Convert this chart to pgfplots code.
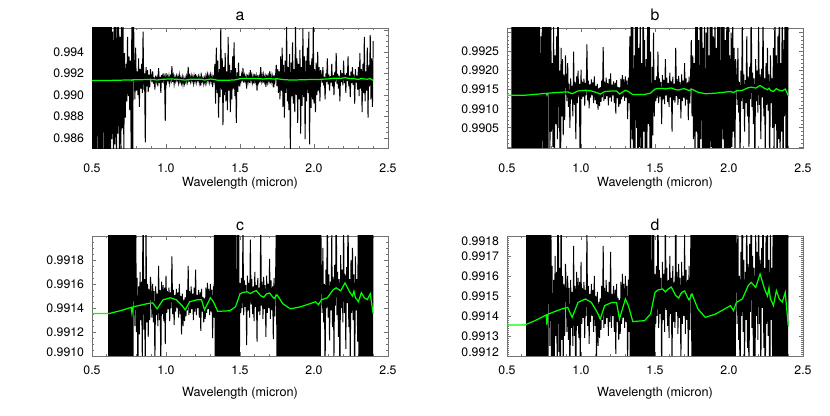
\documentclass[border=0pt]{standalone}
\usepackage{fontspec}
\setmainfont{TeX Gyre Heros}
\usepackage{pgfplots}
\usepackage{pgfplotstable}
\pgfplotsset{compat=1.18}

% spectrum at the noise level of panels a and b
\pgfplotstableread[row sep=\\]{
x y\\
0.500 0.99990\\ 0.505 0.98190\\ 0.510 1.00240\\ 0.515 0.98340\\ 0.520 0.99840\\ 0.525 0.98040\\
0.530 1.00090\\ 0.535 0.98390\\ 0.540 1.00340\\ 0.545 0.98240\\ 0.550 0.99940\\ 0.555 0.98140\\
0.560 0.99890\\ 0.565 0.97940\\ 0.570 1.00140\\ 0.575 0.98290\\ 0.580 1.00040\\ 0.585 0.98440\\
0.590 1.00190\\ 0.595 0.98190\\ 0.600 0.99990\\ 0.605 0.98040\\ 0.610 0.99940\\ 0.615 0.98240\\
0.620 0.99740\\ 0.625 0.98390\\ 0.630 1.00040\\ 0.635 0.98590\\ 0.640 0.99590\\ 0.645 0.98290\\
0.650 0.99840\\ 0.655 0.98540\\ 0.660 0.99690\\ 0.665 0.98240\\ 0.670 0.99940\\ 0.675 0.98640\\
0.680 0.99790\\ 0.685 0.98440\\ 0.690 0.99540\\ 0.695 0.98340\\ 0.700 0.99890\\ 0.705 0.98690\\
0.710 0.99690\\ 0.715 0.98490\\
0.720 0.99390\\ 0.725 0.98790\\ 0.730 0.99290\\ 0.735 0.98940\\ 0.740 0.99540\\ 0.745 0.98990\\
0.750 0.99360\\ 0.755 0.98860\\ 0.760 0.99320\\
0.765 0.98340\\ 0.770 1.00040\\ 0.775 0.98290\\ 0.780 0.99840\\
0.785 0.99260\\ 0.790 0.98960\\ 0.795 0.99440\\ 0.800 0.99040\\ 0.805 0.99220\\ 0.810 0.99000\\
0.815 0.99340\\ 0.820 0.98890\\ 0.825 0.99240\\ 0.830 0.99060\\ 0.835 0.99290\\ 0.840 0.99020\\
0.845 0.99590\\
0.850 0.99050\\ 0.855 0.99200\\ 0.860 0.98560\\ 0.865 0.99260\\ 0.870 0.99080\\ 0.875 0.99230\\
0.880 0.99030\\ 0.885 0.99190\\ 0.890 0.99070\\ 0.895 0.99240\\
0.900 0.99175\\ 0.905 0.99120\\ 0.910 0.99220\\ 0.915 0.99105\\ 0.920 0.99165\\ 0.925 0.99050\\
0.930 0.99180\\ 0.935 0.99125\\ 0.940 0.99160\\ 0.945 0.99080\\ 0.950 0.99250\\ 0.955 0.99110\\
0.960 0.99170\\ 0.965 0.99020\\ 0.970 0.99185\\ 0.975 0.99115\\ 0.980 0.99200\\ 0.985 0.99130\\
0.990 0.99165\\ 0.995 0.98760\\
1.000 0.99203\\ 1.005 0.99126\\ 1.010 0.99171\\ 1.015 0.99132\\ 1.020 0.99179\\ 1.025 0.99108\\
1.030 0.99168\\ 1.035 0.99136\\ 1.040 0.99269\\ 1.045 0.99122\\ 1.050 0.99174\\ 1.055 0.99101\\
1.060 0.99164\\ 1.065 0.99129\\ 1.070 0.99177\\ 1.075 0.99135\\ 1.080 0.99169\\ 1.085 0.99115\\
1.090 0.99185\\ 1.095 0.99123\\ 1.100 0.99160\\ 1.105 0.99112\\ 1.110 0.99165\\ 1.115 0.99098\\
1.120 0.99154\\ 1.125 0.99107\\ 1.130 0.99157\\ 1.135 0.99118\\ 1.140 0.99174\\ 1.145 0.99130\\
1.150 0.99262\\ 1.155 0.99121\\ 1.160 0.99171\\ 1.165 0.99126\\ 1.170 0.99182\\ 1.175 0.99133\\
1.180 0.99167\\ 1.185 0.99109\\ 1.190 0.99178\\ 1.195 0.99129\\ 1.200 0.99193\\ 1.205 0.99119\\
1.210 0.99163\\ 1.215 0.99135\\ 1.220 0.99172\\ 1.225 0.99115\\ 1.230 0.99168\\ 1.235 0.99087\\
1.240 0.99175\\ 1.245 0.99128\\ 1.250 0.99157\\ 1.255 0.99105\\ 1.260 0.99156\\ 1.265 0.99112\\
1.270 0.99179\\ 1.275 0.99125\\ 1.280 0.99188\\ 1.285 0.99132\\ 1.290 0.99177\\ 1.295 0.99121\\
1.300 0.99185\\ 1.305 0.99129\\ 1.310 0.99174\\ 1.315 0.99073\\ 1.320 0.99182\\ 1.325 0.99115\\
1.330 0.99290\\ 1.335 0.98920\\ 1.340 0.99440\\ 1.345 0.99020\\ 1.350 0.99320\\ 1.355 0.98790\\
1.360 0.99240\\ 1.365 0.98980\\ 1.370 0.99620\\ 1.375 0.99050\\ 1.380 0.99340\\ 1.385 0.98720\\
1.390 0.99260\\ 1.395 0.99000\\ 1.400 0.99390\\ 1.405 0.98940\\ 1.410 0.99220\\ 1.415 0.98860\\
1.420 0.99540\\ 1.425 0.99040\\ 1.430 0.99280\\ 1.435 0.98840\\ 1.440 0.99230\\ 1.445 0.98960\\
1.450 0.99360\\ 1.455 0.99060\\ 1.460 0.99490\\ 1.465 0.98990\\ 1.470 0.99250\\ 1.475 0.98740\\
1.480 0.99210\\ 1.485 0.99030\\ 1.490 0.99300\\ 1.495 0.99080\\
1.500 0.99175\\ 1.505 0.99120\\ 1.510 0.99185\\ 1.515 0.99128\\ 1.520 0.99250\\ 1.525 0.99115\\
1.530 0.99180\\ 1.535 0.99132\\ 1.540 0.99170\\ 1.545 0.99060\\ 1.550 0.99188\\ 1.555 0.99125\\
1.560 0.99176\\ 1.565 0.99112\\ 1.570 0.99230\\ 1.575 0.99135\\ 1.580 0.99182\\ 1.585 0.99118\\
1.590 0.99168\\ 1.595 0.99105\\ 1.600 0.99195\\ 1.605 0.99130\\ 1.610 0.99172\\ 1.615 0.99040\\
1.620 0.99184\\ 1.625 0.99122\\ 1.630 0.99166\\ 1.635 0.99116\\ 1.640 0.99260\\ 1.645 0.99134\\
1.650 0.99178\\ 1.655 0.99110\\ 1.660 0.99186\\ 1.665 0.99126\\ 1.670 0.99170\\ 1.675 0.99075\\
1.680 0.99190\\ 1.685 0.99120\\ 1.690 0.99174\\ 1.695 0.99129\\ 1.700 0.99220\\ 1.705 0.99108\\
1.710 0.99180\\ 1.715 0.99124\\ 1.720 0.99169\\ 1.725 0.99070\\ 1.730 0.99184\\ 1.735 0.99114\\
1.740 0.99176\\ 1.745 0.99280\\
1.750 0.99080\\ 1.755 0.99240\\ 1.760 0.99020\\ 1.765 0.99220\\ 1.770 0.98960\\ 1.775 0.99360\\
1.780 0.99040\\ 1.785 0.99440\\ 1.790 0.98890\\ 1.795 0.99280\\ 1.800 0.98790\\ 1.805 0.99320\\
1.810 0.99020\\ 1.815 0.99640\\ 1.820 0.98940\\ 1.825 0.99260\\ 1.830 0.98860\\ 1.835 0.99380\\
1.840 0.98490\\ 1.845 0.99300\\ 1.850 0.98990\\ 1.855 0.99490\\ 1.860 0.98920\\ 1.865 0.99240\\
1.870 0.98840\\ 1.875 0.99690\\ 1.880 0.99000\\ 1.885 0.99340\\ 1.890 0.98740\\ 1.895 0.99290\\
1.900 0.98960\\ 1.905 0.99420\\ 1.910 0.98640\\ 1.915 0.99260\\ 1.920 0.98900\\ 1.925 0.99620\\
1.930 0.98980\\ 1.935 0.99360\\ 1.940 0.98590\\ 1.945 0.99320\\ 1.950 0.98940\\ 1.955 0.99440\\
1.960 0.99020\\ 1.965 0.99590\\ 1.970 0.98540\\ 1.975 0.99280\\ 1.980 0.98880\\ 1.985 0.99340\\
1.990 0.98960\\ 1.995 0.99640\\ 2.000 0.98920\\ 2.005 0.99240\\ 2.010 0.98840\\ 2.015 0.99300\\
2.020 0.99000\\ 2.025 0.99400\\ 2.030 0.99040\\ 2.035 0.99260\\ 2.040 0.98940\\ 2.045 0.99230\\
2.050 0.99180\\ 2.055 0.99110\\ 2.060 0.99260\\ 2.065 0.99090\\ 2.070 0.99170\\ 2.075 0.98960\\
2.080 0.99200\\ 2.085 0.99120\\ 2.090 0.99340\\ 2.095 0.99100\\ 2.100 0.99190\\ 2.105 0.99040\\
2.110 0.99175\\ 2.115 0.99115\\ 2.120 0.99290\\ 2.125 0.99080\\ 2.130 0.99185\\ 2.135 0.99000\\
2.140 0.99210\\ 2.145 0.99125\\ 2.150 0.99390\\ 2.155 0.99105\\ 2.160 0.99195\\ 2.165 0.99060\\
2.170 0.99180\\ 2.175 0.98940\\ 2.180 0.99230\\ 2.185 0.99120\\ 2.190 0.99200\\ 2.195 0.99090\\
2.200 0.99320\\ 2.205 0.99110\\ 2.210 0.99190\\ 2.215 0.99020\\ 2.220 0.99205\\ 2.225 0.99130\\
2.230 0.99360\\ 2.235 0.99080\\ 2.240 0.99180\\ 2.245 0.98980\\ 2.250 0.99220\\ 2.255 0.99110\\
2.260 0.99260\\ 2.265 0.99095\\ 2.270 0.99190\\ 2.275 0.98920\\ 2.280 0.99240\\ 2.285 0.99115\\
2.290 0.99180\\ 2.295 0.99050\\
2.300 0.99260\\ 2.305 0.98990\\ 2.310 0.99390\\ 2.315 0.99060\\ 2.320 0.99240\\ 2.325 0.98840\\
2.330 0.99290\\ 2.335 0.99020\\ 2.340 0.99540\\ 2.345 0.98940\\ 2.350 0.99220\\ 2.355 0.99040\\
2.360 0.99440\\ 2.365 0.98790\\ 2.370 0.99280\\ 2.375 0.99080\\ 2.380 0.99560\\ 2.385 0.98960\\
2.390 0.99340\\ 2.395 0.98890\\ 2.400 0.99500\\
}\specA

% spectrum at the noise level of panels c and d
\pgfplotstableread[row sep=\\]{
x y\\
0.610 0.99940\\ 0.615 0.98240\\
0.620 0.99740\\ 0.625 0.98390\\ 0.630 1.00040\\ 0.635 0.98590\\ 0.640 0.99590\\ 0.645 0.98290\\
0.650 0.99840\\ 0.655 0.98540\\ 0.660 0.99690\\ 0.665 0.98240\\ 0.670 0.99940\\ 0.675 0.98640\\
0.680 0.99790\\ 0.685 0.98440\\ 0.690 0.99540\\ 0.695 0.98340\\ 0.700 0.99890\\ 0.705 0.98690\\
0.710 0.99690\\ 0.715 0.98490\\
0.720 0.99390\\ 0.725 0.98790\\ 0.730 0.99290\\ 0.735 0.98940\\ 0.740 0.99540\\ 0.745 0.98990\\
0.750 0.99360\\ 0.755 0.98860\\ 0.760 0.99320\\
0.765 0.98340\\ 0.770 1.00040\\ 0.775 0.98290\\ 0.780 0.99840\\
0.785 0.99160\\ 0.790 0.99125\\ 0.795 0.99230\\ 0.800 0.99120\\ 0.805 0.99165\\ 0.810 0.99080\\
0.815 0.99158\\ 0.820 0.99118\\ 0.825 0.99170\\ 0.830 0.99130\\ 0.835 0.99162\\ 0.840 0.99095\\
0.845 0.99260\\
0.850 0.99122\\ 0.855 0.99164\\ 0.860 0.99080\\ 0.865 0.99210\\ 0.870 0.99128\\ 0.875 0.99160\\
0.880 0.99116\\ 0.885 0.99156\\ 0.890 0.99130\\ 0.895 0.99166\\
0.900 0.99156\\ 0.905 0.99132\\ 0.910 0.99160\\ 0.915 0.99128\\ 0.920 0.99154\\ 0.925 0.99095\\
0.930 0.99158\\ 0.935 0.99134\\ 0.940 0.99152\\ 0.945 0.99125\\ 0.950 0.99175\\ 0.955 0.99130\\
0.960 0.99155\\ 0.965 0.99090\\ 0.970 0.99162\\ 0.975 0.99135\\ 0.980 0.99159\\ 0.985 0.99129\\
0.990 0.99157\\ 0.995 0.99110\\
1.000 0.99167\\ 1.005 0.99136\\ 1.010 0.99154\\ 1.015 0.99139\\ 1.020 0.99157\\ 1.025 0.99129\\
1.030 0.99153\\ 1.035 0.99140\\ 1.040 0.99183\\ 1.045 0.99135\\ 1.050 0.99155\\ 1.055 0.99126\\
1.060 0.99151\\ 1.065 0.99137\\ 1.070 0.99156\\ 1.075 0.99140\\ 1.080 0.99153\\ 1.085 0.99132\\
1.090 0.99160\\ 1.095 0.99135\\ 1.100 0.99150\\ 1.105 0.99118\\ 1.110 0.99152\\ 1.115 0.99125\\
1.120 0.99147\\ 1.125 0.99129\\ 1.130 0.99149\\ 1.135 0.99133\\ 1.140 0.99155\\ 1.145 0.99138\\
1.150 0.99175\\ 1.155 0.99134\\ 1.160 0.99154\\ 1.165 0.99136\\ 1.170 0.99158\\ 1.175 0.99139\\
1.180 0.99152\\ 1.185 0.99130\\ 1.190 0.99157\\ 1.195 0.99137\\ 1.200 0.99172\\ 1.205 0.99134\\
1.210 0.99151\\ 1.215 0.99140\\ 1.220 0.99155\\ 1.225 0.99132\\ 1.230 0.99153\\ 1.235 0.99121\\
1.240 0.99156\\ 1.245 0.99137\\ 1.250 0.99149\\ 1.255 0.99128\\ 1.260 0.99148\\ 1.265 0.99131\\
1.270 0.99157\\ 1.275 0.99136\\ 1.280 0.99161\\ 1.285 0.99139\\ 1.290 0.99156\\ 1.295 0.99134\\
1.300 0.99160\\ 1.305 0.99137\\ 1.310 0.99155\\ 1.315 0.99115\\ 1.320 0.99158\\ 1.325 0.99132\\
1.330 0.99290\\ 1.335 0.98920\\ 1.340 0.99440\\ 1.345 0.99020\\ 1.350 0.99320\\ 1.355 0.98790\\
1.360 0.99240\\ 1.365 0.98980\\ 1.370 0.99620\\ 1.375 0.99050\\ 1.380 0.99340\\ 1.385 0.98720\\
1.390 0.99260\\ 1.395 0.99000\\ 1.400 0.99390\\ 1.405 0.98940\\ 1.410 0.99220\\ 1.415 0.98860\\
1.420 0.99540\\ 1.425 0.99040\\ 1.430 0.99280\\ 1.435 0.98840\\ 1.440 0.99230\\ 1.445 0.98960\\
1.450 0.99360\\ 1.455 0.99060\\ 1.460 0.99490\\ 1.465 0.98990\\ 1.470 0.99250\\ 1.475 0.98740\\
1.480 0.99210\\ 1.485 0.99030\\ 1.490 0.99300\\ 1.495 0.99080\\
1.500 0.99161\\ 1.505 0.99136\\ 1.510 0.99165\\ 1.515 0.99140\\ 1.520 0.99207\\ 1.525 0.99134\\
1.530 0.99163\\ 1.535 0.99141\\ 1.540 0.99159\\ 1.545 0.99109\\ 1.550 0.99167\\ 1.555 0.99138\\
1.560 0.99161\\ 1.565 0.99132\\ 1.570 0.99197\\ 1.575 0.99143\\ 1.580 0.99164\\ 1.585 0.99135\\
1.590 0.99158\\ 1.595 0.99129\\ 1.600 0.99170\\ 1.605 0.99141\\ 1.610 0.99159\\ 1.615 0.99112\\
1.620 0.99165\\ 1.625 0.99137\\ 1.630 0.99157\\ 1.635 0.99134\\ 1.640 0.99212\\ 1.645 0.99142\\
1.650 0.99162\\ 1.655 0.99131\\ 1.660 0.99166\\ 1.665 0.99139\\ 1.670 0.99159\\ 1.675 0.99116\\
1.680 0.99167\\ 1.685 0.99136\\ 1.690 0.99160\\ 1.695 0.99140\\ 1.700 0.99181\\ 1.705 0.99131\\
1.710 0.99163\\ 1.715 0.99138\\ 1.720 0.99158\\ 1.725 0.99114\\ 1.730 0.99165\\ 1.735 0.99133\\
1.740 0.99161\\ 1.745 0.99207\\
1.750 0.99080\\ 1.755 0.99240\\ 1.760 0.99020\\ 1.765 0.99220\\ 1.770 0.98960\\ 1.775 0.99360\\
1.780 0.99040\\ 1.785 0.99440\\ 1.790 0.98890\\ 1.795 0.99280\\ 1.800 0.98790\\ 1.805 0.99320\\
1.810 0.99020\\ 1.815 0.99640\\ 1.820 0.98940\\ 1.825 0.99260\\ 1.830 0.98860\\ 1.835 0.99380\\
1.840 0.98490\\ 1.845 0.99300\\ 1.850 0.98990\\ 1.855 0.99490\\ 1.860 0.98920\\ 1.865 0.99240\\
1.870 0.98840\\ 1.875 0.99690\\ 1.880 0.99000\\ 1.885 0.99340\\ 1.890 0.98740\\ 1.895 0.99290\\
1.900 0.98960\\ 1.905 0.99420\\ 1.910 0.98640\\ 1.915 0.99260\\ 1.920 0.98900\\ 1.925 0.99620\\
1.930 0.98980\\ 1.935 0.99360\\ 1.940 0.98590\\ 1.945 0.99320\\ 1.950 0.98940\\ 1.955 0.99440\\
1.960 0.99020\\ 1.965 0.99590\\ 1.970 0.98540\\ 1.975 0.99280\\ 1.980 0.98880\\ 1.985 0.99340\\
1.990 0.98960\\ 1.995 0.99640\\ 2.000 0.98920\\ 2.005 0.99240\\ 2.010 0.98840\\ 2.015 0.99300\\
2.020 0.99000\\ 2.025 0.99400\\ 2.030 0.99040\\ 2.035 0.99260\\ 2.040 0.98940\\ 2.045 0.99230\\
2.050 0.99164\\ 2.055 0.99136\\ 2.060 0.99190\\ 2.065 0.99128\\ 2.070 0.99160\\ 2.075 0.99085\\
2.080 0.99172\\ 2.085 0.99140\\ 2.090 0.99218\\ 2.095 0.99132\\ 2.100 0.99168\\ 2.105 0.99113\\
2.110 0.99162\\ 2.115 0.99138\\ 2.120 0.99201\\ 2.125 0.99124\\ 2.130 0.99166\\ 2.135 0.99099\\
2.140 0.99176\\ 2.145 0.99142\\ 2.150 0.99236\\ 2.155 0.99134\\ 2.160 0.99170\\ 2.165 0.99116\\
2.170 0.99164\\ 2.175 0.99078\\ 2.180 0.99184\\ 2.185 0.99140\\ 2.190 0.99172\\ 2.195 0.99128\\
2.200 0.99211\\ 2.205 0.99136\\ 2.210 0.99168\\ 2.215 0.99106\\ 2.220 0.99174\\ 2.225 0.99144\\
2.230 0.99225\\ 2.235 0.99124\\ 2.240 0.99164\\ 2.245 0.99092\\ 2.250 0.99180\\ 2.255 0.99136\\
2.260 0.99190\\ 2.265 0.99130\\ 2.270 0.99168\\ 2.275 0.99071\\ 2.280 0.99183\\ 2.285 0.99138\\
2.290 0.99164\\ 2.295 0.99112\\
2.300 0.99260\\ 2.305 0.98990\\ 2.310 0.99390\\ 2.315 0.99060\\ 2.320 0.99240\\ 2.325 0.98840\\
2.330 0.99290\\ 2.335 0.99020\\ 2.340 0.99540\\ 2.345 0.98940\\ 2.350 0.99220\\ 2.355 0.99040\\
2.360 0.99440\\ 2.365 0.98790\\ 2.370 0.99280\\ 2.375 0.99080\\ 2.380 0.99560\\ 2.385 0.98960\\
2.390 0.99340\\ 2.395 0.98890\\ 2.400 0.99500\\
}\specC

% model (green)
\pgfplotstableread[row sep=\\]{
x y\\
0.50 0.991355\\ 0.62 0.991355\\ 0.69 0.991377\\ 0.765 0.991405\\ 0.77 0.991355\\ 0.775 0.991408\\
0.78 0.991410\\ 0.87 0.991435\\ 0.91 0.991443\\ 0.94 0.991393\\ 0.98 0.991468\\ 1.03 0.991485\\
1.07 0.991468\\ 1.11 0.991418\\ 1.13 0.991385\\ 1.16 0.991452\\ 1.21 0.991468\\ 1.24 0.991468\\
1.26 0.991385\\ 1.30 0.991485\\ 1.32 0.991452\\ 1.35 0.991372\\ 1.43 0.991377\\ 1.47 0.991410\\
1.50 0.991518\\ 1.52 0.991530\\ 1.55 0.991535\\ 1.57 0.991520\\ 1.59 0.991535\\ 1.61 0.991545\\
1.64 0.991502\\ 1.66 0.991490\\ 1.68 0.991518\\ 1.70 0.991525\\ 1.72 0.991493\\ 1.73 0.991480\\
1.75 0.991510\\ 1.79 0.991435\\ 1.84 0.991393\\ 1.91 0.991410\\ 1.97 0.991435\\ 2.01 0.991452\\
2.03 0.991427\\ 2.05 0.991468\\ 2.09 0.991485\\ 2.13 0.991552\\ 2.15 0.991568\\ 2.18 0.991543\\
2.21 0.991610\\ 2.24 0.991535\\ 2.26 0.991500\\ 2.27 0.991540\\ 2.28 0.991485\\ 2.29 0.991470\\
2.30 0.991452\\ 2.32 0.991527\\ 2.34 0.991485\\ 2.36 0.991470\\ 2.38 0.991518\\ 2.40 0.991352\\
}\model

\pgfplotsset{
  specax/.style={
    scale only axis, width=5.92cm, height=2.4cm,
    xmin=0.5, xmax=2.5,
    xtick={0.5,1.0,1.5,2.0,2.5}, xticklabels={0.5,1.0,1.5,2.0,2.5},
    minor x tick num=4,
    tick align=inside, tick pos=both,
    xticklabel pos=lower, yticklabel pos=left,
    major tick length=2.4pt, minor tick length=1.3pt,
    axis line style={black!55, line width=0.4pt},
    every tick/.append style={black!55, line width=0.4pt},
    tick label style={font=\fontsize{7}{8}\selectfont},
    yticklabel style={anchor=east, xshift=-1pt},
    xlabel={Wavelength (micron)},
    label style={font=\fontsize{7.2}{8.6}\selectfont},
    xlabel style={at={(axis description cs:0.5,0)}, anchor=base},
    title style={anchor=base, font=\fontsize{9}{10.8}\selectfont},
  },
  spec/.style={black, line width=0.55pt},
  mod/.style={green, line width=0.7pt},
}

\begin{document}
\begin{tikzpicture}
\path[use as bounding box] (0,0) rectangle (16.6cm,8.3cm);

% a
\begin{axis}[specax, at={(1.84cm,5.34cm)}, anchor=south west, title={a},
    ymin=0.98507, ymax=0.99623,
    ytick={0.986,0.988,0.990,0.992,0.994,0.996},
    yticklabels={0.986,0.988,0.990,0.992,0.994,},
    minor y tick num=3,
    xticklabel shift=5.7pt, xlabel style={yshift=-22pt},
    title style={yshift=-2pt}]
\addplot[spec] table[x=x, y=y] {\specA};
\addplot[mod] table[x=x, y=y] {\model};
\end{axis}

% b
\begin{axis}[specax, at={(10.14cm,5.34cm)}, anchor=south west, title={b},
    ymin=0.98997, ymax=0.99312,
    ytick={0.9900,0.9905,0.9910,0.9915,0.9920,0.9925,0.9930},
    yticklabels={,0.9905,0.9910,0.9915,0.9920,0.9925,},
    minor y tick num=4,
    xticklabel shift=5.7pt, xlabel style={yshift=-22pt},
    title style={yshift=-2pt}]
\addplot[spec, restrict x to domain=0.53:2.5] table[x=x, y=y] {\specA};
\addplot[mod] table[x=x, y=y] {\model};
\end{axis}

% c
\begin{axis}[specax, at={(1.84cm,1.18cm)}, anchor=south west, title={c},
    ymin=0.99100, ymax=0.99200,
    ytick={0.9910,0.9912,0.9914,0.9916,0.9918,0.9920},
    yticklabels={\raisebox{2.3pt}[\height][\depth]{0.9910},0.9912,0.9914,0.9916,0.9918,},
    minor y tick num=3,
    xticklabel shift=2pt, xlabel style={yshift=-23pt},
    title style={yshift=-3pt}]
\addplot[spec] table[x=x, y=y] {\specC};
\addplot[mod] table[x=x, y=y] {\model};
\end{axis}

% d
\begin{axis}[specax, at={(10.14cm,1.18cm)}, anchor=south west, title={d},
    ymin=0.99120, ymax=0.99180,
    ytick={0.9912,0.9913,0.9914,0.9915,0.9916,0.9917,0.9918},
    yticklabels={\raisebox{2.3pt}[\height][\depth]{0.9912},0.9913,0.9914,0.9915,0.9916,0.9917,\raisebox{-2.8pt}[\height][\depth]{0.9918}},
    minor y tick num=9,
    xticklabel shift=2pt, xlabel style={yshift=-23pt},
    title style={yshift=-3pt}]
\addplot[spec, restrict x to domain=0.63:2.5] table[x=x, y=y] {\specC};
\addplot[mod] table[x=x, y=y] {\model};
\end{axis}
\end{tikzpicture}
\end{document}
